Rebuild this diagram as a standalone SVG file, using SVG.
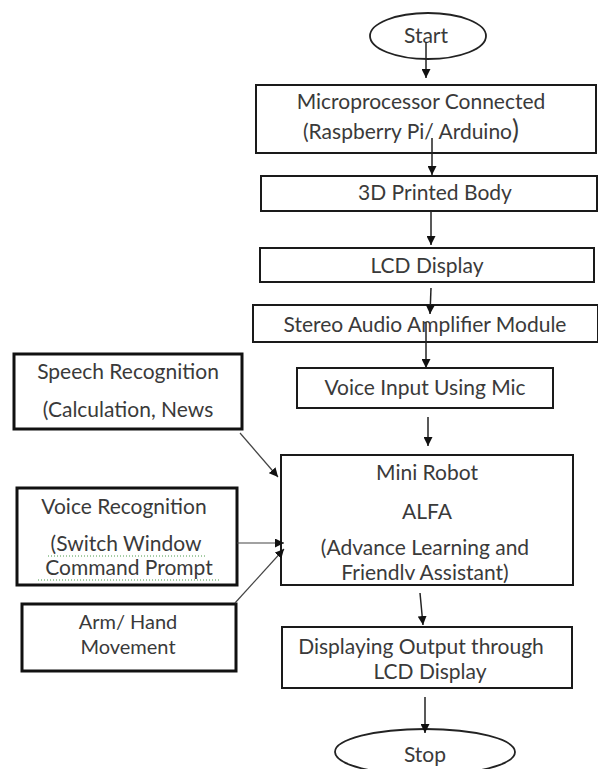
<svg xmlns="http://www.w3.org/2000/svg" width="598" height="769" viewBox="0 0 598 769">
<defs>
<style>
.t{font-family:Lato,"Open Sans","Liberation Sans",sans-serif;font-size:21px;fill:#3a3a3a;text-anchor:middle}
.s{font-size:20px}
.b{fill:#fff;stroke:#1a1a1a;stroke-width:2}
.bl{fill:#fff;stroke:#111;stroke-width:3}
.c{fill:none;stroke:#222;stroke-width:1.5}
.cd{fill:none;stroke:#444;stroke-width:1.2}
.sq{fill:none;stroke:#4a9a4a;stroke-width:1;stroke-dasharray:1 2}
</style>
<marker id="ah" viewBox="0 0 10 10" refX="10" refY="5" markerWidth="9" markerHeight="9" markerUnits="userSpaceOnUse" orient="auto">
<path d="M0,0 L10,5 L0,10 z" fill="#111"/>
</marker>
</defs>
<rect width="598" height="769" fill="#fff"/>

<g id="start">
<ellipse cx="428" cy="36" rx="58" ry="23" fill="#fff" stroke="#222" stroke-width="1.8"/>
<text class="t" x="426" y="43">Start</text>
</g>
<g id="microprocessor">
<rect class="b" x="256" y="85" width="340" height="68" stroke="#555" stroke-width="3"/>
<text class="t" x="421" y="109">Microprocessor Connected</text>
<text class="t" x="411" y="139">(Raspberry Pi/ Arduino<tspan font-size="26">)</tspan></text>
</g>
<g id="body3d">
<rect class="b" x="261" y="176" width="336" height="35" stroke-width="2.5"/>
<text class="t" x="435" y="200">3D Printed Body</text>
</g>
<g id="lcd">
<rect class="b" x="260" y="248" width="334" height="34" stroke-width="2.5"/>
<text class="t" x="427" y="273">LCD Display</text>
</g>
<g id="stereo">
<rect class="b" x="253" y="305" width="345" height="37" stroke="#555" stroke-width="2.5"/>
<text class="t" x="425" y="332">Stereo Audio Amplifier Module</text>
</g>
<g id="voiceinput">
<rect class="b" x="297" y="368" width="256" height="40"/>
<text class="t" x="425" y="395">Voice Input Using Mic</text>
</g>
<g id="robot">
<rect class="b" x="281" y="455" width="292" height="130"/>
<text class="t" x="427" y="480">Mini Robot</text>
<text class="t" x="427" y="519">ALFA</text>
<text class="t" x="425" y="555">(Advance Learning and</text>
<text class="t" x="425" y="580">Friendlv Assistant)</text>
</g>
<g id="output">
<rect class="b" x="282" y="627" width="290" height="61"/>
<text class="t" x="421" y="654">Displaying Output through</text>
<text class="t" x="430" y="679">LCD Display</text>
</g>
<g id="stop">
<ellipse cx="425" cy="752" rx="90" ry="23" fill="#fff" stroke="#222" stroke-width="1.8"/>
<text class="t" x="425" y="762">Stop</text>
</g>
<g id="speech">
<rect class="bl" x="14" y="354" width="228" height="75"/>
<text class="t" x="128" y="379">Speech Recognition</text>
<text class="t" x="128" y="417">(Calculation, News</text>
</g>
<g id="voicerec">
<rect class="bl" x="17" y="488" width="220" height="97"/>
<text class="t" x="124" y="514">Voice Recognition</text>
<text class="t" x="126" y="551">(Switch Window</text>
<text class="t" x="129" y="575">Command Prompt</text>
<path class="sq" d="M48,556 H206 M38,580 H220"/>
</g>
<g id="arm">
<rect class="bl" x="22" y="604" width="214" height="67"/>
<text class="t s" x="128" y="629">Arm/ Hand</text>
<text class="t s" x="128" y="654">Movement</text>
</g>

<g id="connectors">
<path class="c" d="M426,42 V78" marker-end="url(#ah)"/>
<path class="c" d="M432,138 V175" marker-end="url(#ah)"/>
<path class="c" d="M431,211 V245" marker-end="url(#ah)"/>
<path class="c" d="M431,288 L430,314" marker-end="url(#ah)"/>
<path class="c" d="M426,322 V368" marker-end="url(#ah)"/>
<path class="c" d="M428,417 V446" marker-end="url(#ah)"/>
<path class="c" d="M420,593 L423,625" marker-end="url(#ah)"/>
<path class="c" d="M425,697 V733" marker-end="url(#ah)"/>
<path class="cd" d="M240,433 L278,477" marker-end="url(#ah)"/>
<path class="cd" d="M237,543 H284" marker-end="url(#ah)"/>
<path class="cd" d="M235,603 L284,549" marker-end="url(#ah)"/>
</g>
</svg>
